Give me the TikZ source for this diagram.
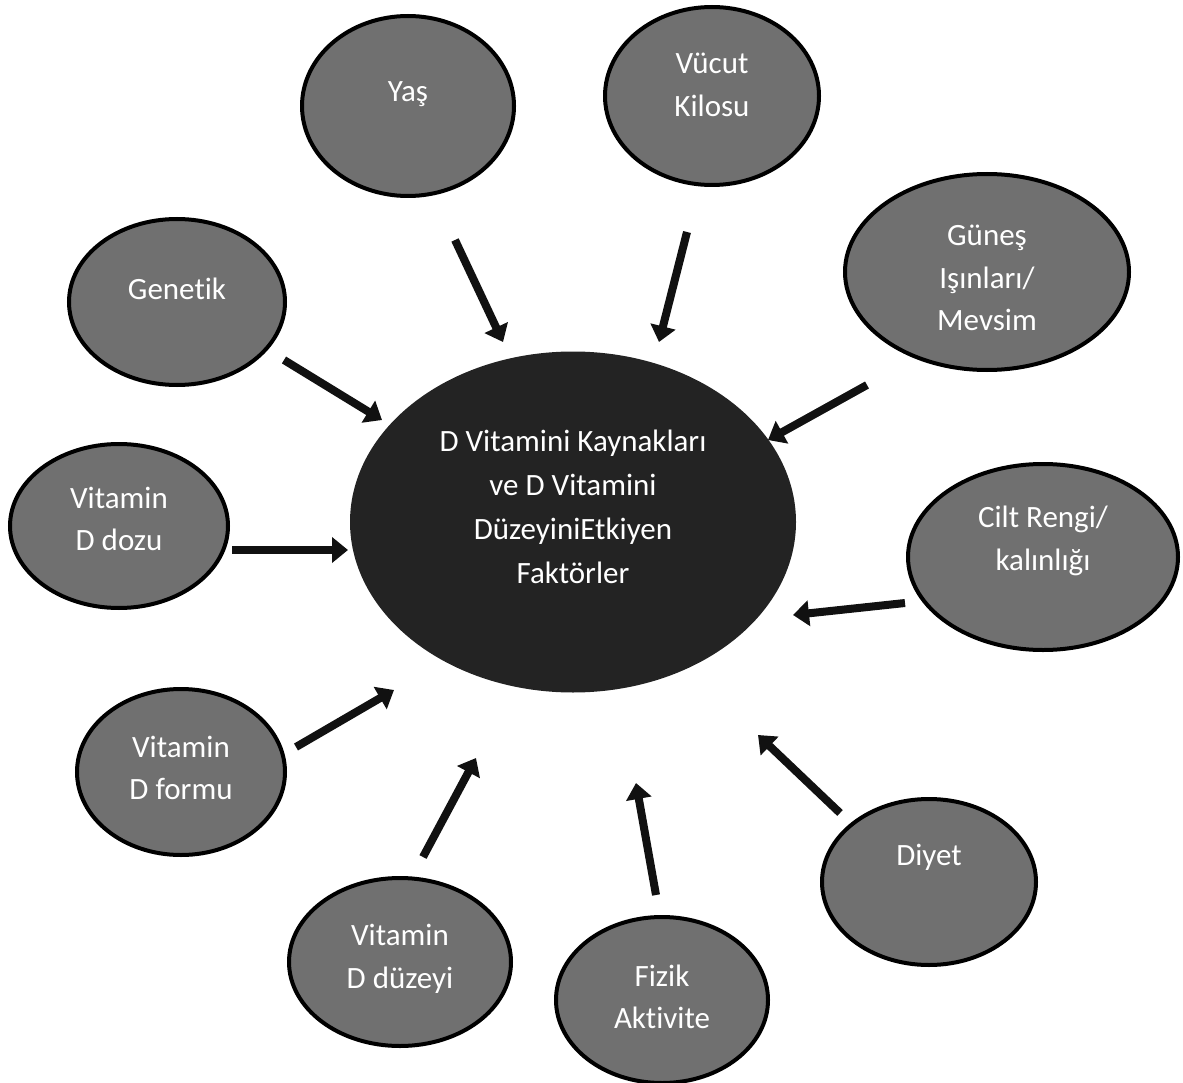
\documentclass[tikz,border=0pt]{standalone}
\usepackage{fontspec}
\setmainfont{Carlito}[Ligatures={NoCommon,NoRare}]
\usepackage{tikz}
\usetikzlibrary{shapes.geometric}
\usetikzlibrary{arrows.meta}

\definecolor{factorgray}{HTML}{707070}
\definecolor{centergray}{HTML}{232323}
\definecolor{arrowblack}{HTML}{111111}

\begin{document}
\begin{tikzpicture}[x=1pt, y=-1pt,
    factor/.style={ellipse, draw=black, line width=4pt, fill=factorgray, inner sep=0pt},
    ftext/.style={text=white, align=center, font=\fontsize{31pt}{42.5pt}\selectfont},
    arr/.style={draw=arrowblack, line width=8pt, -{Triangle[width=25pt, length=16pt]}}]
\useasboundingbox (0,0) rectangle (1183,1083);

% central ellipse
\node[ellipse, fill=centergray, inner sep=0pt, minimum width=446pt, minimum height=341pt,
    label={[ftext, yshift=15pt, font=\fontsize{31pt}{44pt}\selectfont]center:{D Vitamini Kaynakları\\ve D Vitamini\\DüzeyiniEtkiyen\\Faktörler}}] (merkez) at (573,522) {};

% factors
\node[factor, minimum width=212pt, minimum height=180pt, label={[ftext, yshift=12pt]center:Yaş}] (yas) at (408,106) {};
\node[factor, minimum width=214pt, minimum height=178pt, label={[ftext, yshift=11pt]center:{Vücut\\Kilosu}}] (kilo) at (712,96) {};
\node[factor, minimum width=284pt, minimum height=196pt, label={[ftext, yshift=-6pt]center:{Güneş\\Işınları/\\Mevsim}}] (gunes) at (987,272) {};
\node[factor, minimum width=216pt, minimum height=166pt, label={[ftext, yshift=13pt]center:Genetik}] (genetik) at (177,302) {};
\node[factor, minimum width=218pt, minimum height=164pt, label={[ftext, yshift=7pt]center:{Vitamin\\D dozu}}] (doz) at (119,526) {};
\node[factor, minimum width=270pt, minimum height=186pt, label={[ftext, yshift=16pt]center:{Cilt Rengi/\\kalınlığı}}] (cilt) at (1043,557) {};
\node[factor, minimum width=208pt, minimum height=166pt, label={[ftext, yshift=4pt]center:{Vitamin\\D formu}}] (form) at (181,772) {};
\node[factor, minimum width=222pt, minimum height=168pt, label={[ftext, yshift=3pt]center:{Vitamin\\D düzeyi}}] (duzey) at (400,962) {};
\node[factor, minimum width=212pt, minimum height=166pt, label={[ftext, yshift=3pt]center:{Fizik\\Aktivite}}] (fizik) at (662,1000) {};
\node[factor, minimum width=214pt, minimum height=166pt, label={[ftext, yshift=25pt]center:Diyet}] (diyet) at (929,882) {};

% arrow ends
\coordinate (yasA) at (455,240);    \coordinate (yasB) at (503,342);
\coordinate (kiloA) at (687,232);   \coordinate (kiloB) at (659,342);
\coordinate (gunesA) at (867,385);  \coordinate (gunesB) at (768,440);
\coordinate (genA) at (284,360);    \coordinate (genB) at (382,420);
\coordinate (dozA) at (232,550);    \coordinate (dozB) at (348,550);
\coordinate (ciltA) at (905,603);   \coordinate (ciltB) at (793,615);
\coordinate (formA) at (296,747);   \coordinate (formB) at (394,690);
\coordinate (duzeyA) at (423,857);  \coordinate (duzeyB) at (476,758);
\coordinate (fizikA) at (656,895);  \coordinate (fizikB) at (636,783);
\coordinate (diyetA) at (840,813);  \coordinate (diyetB) at (758,735);

\draw[arr] (yasA) -- (yasB);
\draw[arr] (kiloA) -- (kiloB);
\draw[arr] (gunesA) -- (gunesB);
\draw[arr] (genA) -- (genB);
\draw[arr] (dozA) -- (dozB);
\draw[arr] (ciltA) -- (ciltB);
\draw[arr] (formA) -- (formB);
\draw[arr] (duzeyA) -- (duzeyB);
\draw[arr] (fizikA) -- (fizikB);
\draw[arr] (diyetA) -- (diyetB);
\end{tikzpicture}
\end{document}
